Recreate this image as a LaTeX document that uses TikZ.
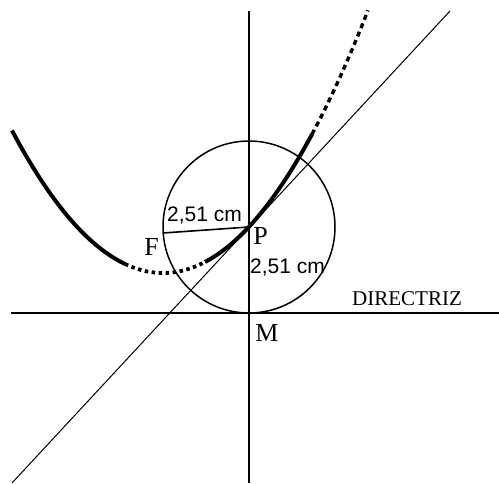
\documentclass[tikz,border=0pt]{standalone}
\usepackage{fontspec}
\setmainfont{Liberation Serif}
\newfontfamily\arialfont{Liberation Sans}
\begin{document}
\begin{tikzpicture}[x=1pt,y=-1pt,
  axis/.style={line width=2pt},
  curvesolid/.style={line width=4pt},
  curvedot/.style={line width=3.8pt, dash pattern=on 3.5pt off 3.5pt},
  lbl/.style={inner sep=0pt, font=\fontsize{26}{26}\selectfont},
  meas/.style={inner sep=0pt, font=\arialfont\fontsize{21}{21}\selectfont},
]
\useasboundingbox (0,0) rectangle (499,483);
\fill[white] (0,0) rectangle (499,483);
% points
\coordinate (P) at (249,227);
\coordinate (F) at (163,233);
\coordinate (M) at (249,313);
\coordinate (vtop) at (249,11);
\coordinate (vbot) at (249,483);
\coordinate (dl) at (11,313);
\coordinate (dr) at (499,313);
\coordinate (tl) at (12,483);
\coordinate (tr) at (450,11);
% axes
\draw[axis] (vtop) -- (vbot);
\draw[axis] (dl) -- (dr);
% tangent
\draw[line width=1pt] (tl) -- (tr);
% circle
\draw[line width=1.5pt] (P) circle[radius=86];
% segment FP
\draw[line width=1.6pt] (F) -- (P);
% parabola
\draw[curvesolid] plot[domain=12:125,samples=60] (\x,{273-10*((\x-163)/40)^2});
\draw[curvedot] plot[domain=125:205,samples=50] (\x,{273-10*((\x-163)/40)^2});
\draw[curvesolid] plot[domain=205:312,samples=60] (\x,{273-10*((\x-163)/40)^2});
\draw[curvedot,line width=3.4pt,dash pattern=on 5pt off 4pt] plot[domain=312:368,samples=50] (\x,{273-10*((\x-163)/40)^2});
% labels
\node[meas] (m1) at (204.5,215.5) {2,51 cm};
\node[meas] (m2) at (287.5,267.5) {2,51 cm};
\node[lbl] (lP) at (260.5,236) {P};
\node[lbl] (lF) at (151.5,247) {F};
\node[lbl] (lM) at (267,332.5) {M};
\node[inner sep=0pt, font=\fontsize{21}{21}\selectfont] (ld) at (407,299) {DIRECTRIZ};
\end{tikzpicture}
\end{document}
